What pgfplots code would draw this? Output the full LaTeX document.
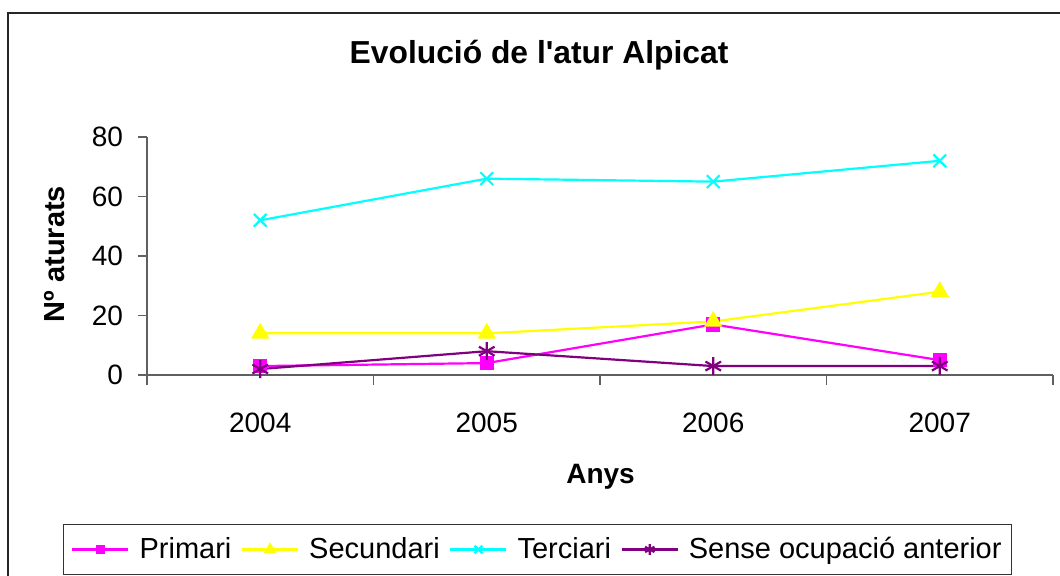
\documentclass[border=0pt]{standalone}
\usepackage{fontspec}
\setmainfont{Liberation Sans}
\usepackage{pgfplots}
\pgfplotsset{compat=1.18}
\definecolor{cPrim}{HTML}{FF00FF}
\definecolor{cSec}{HTML}{FFFF00}
\definecolor{cTer}{HTML}{00FFFF}
\definecolor{cSen}{HTML}{800080}
\definecolor{axgray}{HTML}{606060}
\begin{document}
\begin{tikzpicture}
\useasboundingbox (0,0) rectangle (530pt,288pt);
\draw[line width=1pt,black!85] (4pt,-10pt) rectangle (545pt,281.5pt);
\begin{axis}[
  at={(73.5pt,100.5pt)}, anchor=south west,
  scale only axis, width=453pt, height=119pt,
  xmin=-0.5, xmax=3.5, ymin=0, ymax=80,
  axis x line=bottom, axis y line=left,
  axis line style={-, draw=axgray, line width=0.6pt},
  xtick={0,1,2,3}, xticklabels={2004,2005,2006,2007},
  major x tick style={draw=none},
  minor xtick={-0.5,0.5,1.5,2.5,3.5},
  minor tick length=5pt,
  ytick={0,20,40,60,80},
  major tick length=4.5pt,
  tick align=outside,
  tick style={draw=axgray, line width=0.6pt},
  /pgf/number format/assume math mode=true,
  tick label style={font=\fontsize{14}{16}\selectfont},
  xticklabel style={yshift=-11pt},
  yticklabel style={xshift=-4pt},
  title={Evolució de l\textquotesingle atur Alpicat},
  title style={font=\fontsize{15.9}{18}\selectfont\bfseries, at={(axis description cs:0.4327,1.294)}, anchor=center, yshift=0pt},
  xlabel={Anys},
  xlabel style={font=\fontsize{14}{16}\selectfont\bfseries, at={(axis description cs:0.5006,-0.427)}, anchor=center},
  ylabel={Nº aturats},
  ylabel style={font=\fontsize{14.5}{17}\selectfont\bfseries, at={(axis description cs:-0.1015,0.508)}, anchor=center, rotate=0},
  legend columns=4,
  legend style={at={(axis description cs:0.431,-0.733)}, anchor=center,
    font=\fontsize{14.5}{17}\selectfont, draw=black!80, line width=0.6pt,
    inner xsep=4pt, inner ysep=5.5pt,
    nodes={inner sep=1pt},
    /tikz/every odd column/.append style={column sep=4pt},
    /tikz/every even column/.append style={column sep=3.8pt}},
  legend image code/.code={\draw[mark repeat=2,mark phase=2,every mark/.append style={scale=0.6}] plot coordinates {(0pt,0pt) (14pt,0pt) (28pt,0pt)};},
]
\addplot[color=cPrim, line width=1.1pt, mark=square*, mark size=3pt, mark options={solid, fill=cPrim}] coordinates {(0,3) (1,4) (2,17) (3,5)};
\addlegendentry{Primari}
\addplot[color=cSec, line width=1.1pt, mark=triangle*, mark size=4.2pt, mark options={solid, fill=cSec}] coordinates {(0,14) (1,14) (2,18) (3,28)};
\addlegendentry{Secundari}
\addplot[color=cTer, line width=1.1pt, mark=x, mark size=4.5pt, mark options={solid, line width=1.1pt}] coordinates {(0,52) (1,66) (2,65) (3,72)};
\addlegendentry{Terciari}
\addplot[color=cSen, line width=1.1pt, mark=asterisk, mark size=4.5pt, mark options={solid, line width=1.1pt}] coordinates {(0,2) (1,8) (2,3) (3,3)};
\addlegendentry{Sense ocupació anterior}
\end{axis}
\end{tikzpicture}
\end{document}
